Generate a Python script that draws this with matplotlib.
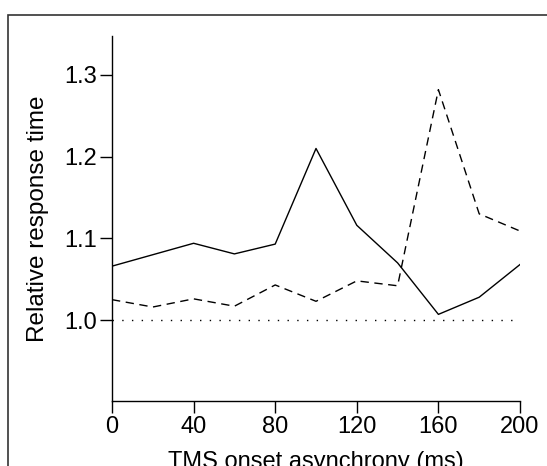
import matplotlib
matplotlib.use("Agg")
import matplotlib.pyplot as plt
from matplotlib.patches import Rectangle

plt.rcParams['font.family'] = ['Liberation Sans', 'DejaVu Sans']

# TMS onset asynchrony (ms)
soa = [0, 20, 40, 60, 80, 100, 120, 140, 160, 180, 200]
# relative response time, solid series
rt_solid = [1.066, 1.080, 1.094, 1.081, 1.093, 1.210, 1.116, 1.070, 1.007, 1.028, 1.068]
# relative response time, dashed series
rt_dashed = [1.025, 1.016, 1.026, 1.017, 1.043, 1.023, 1.048, 1.042, 1.282, 1.130, 1.109]
baseline = 1.0

xticks = [0, 40, 80, 120, 160, 200]
yticks = [1.0, 1.1, 1.2, 1.3]

fig = plt.figure(figsize=(5.47, 4.66), dpi=100)
ax = fig.add_axes([112/547, 1 - 401/466, 408/547, (401 - 35.7)/466])

ax.plot(soa, rt_solid, color='black', lw=1.0)
ax.plot(soa, rt_dashed, color='black', lw=1.0, dashes=(6, 4))
ax.plot([soa[0], soa[-1]], [baseline, baseline], color='black', lw=1.0,
        dashes=(1, 6))

ax.set_xlim(0, 200)
ax.set_ylim(0.901, 1.348)
ax.set_xticks(xticks)
ax.set_yticks(yticks)
ax.set_yticklabels(['%.1f' % v for v in yticks])
for s in ['top', 'right']:
    ax.spines[s].set_visible(False)
for s in ['left', 'bottom']:
    ax.spines[s].set_linewidth(1.0)
ax.tick_params(direction='out', length=8.5, width=1.0, labelsize=17, pad=2)
ax.set_xlabel('TMS onset asynchrony (ms)', fontsize=17, labelpad=10)
ax.set_ylabel('Relative response time', fontsize=17.5, labelpad=11)

# frame around the figure panel, cut by the image edges
fig.patches.append(Rectangle((8.3/547, -0.2), 1.2, 1 - 14.7/466 + 0.2,
                             transform=fig.transFigure, fill=False,
                             edgecolor='#333333', lw=1.2, clip_on=False))

fig.savefig('out.png', dpi=100)
